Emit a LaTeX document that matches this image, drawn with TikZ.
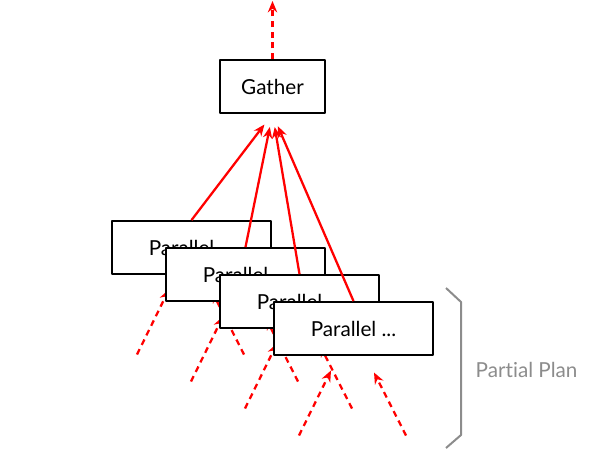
\documentclass[tikz,border=0pt]{standalone}
\usepackage{fontspec}
\setmainfont{Lato}[Ligatures=CommonOff]
\usetikzlibrary{arrows.meta}
\definecolor{plangray}{HTML}{8C8C8C}
\begin{document}
\begin{tikzpicture}[x=0.75pt, y=-0.75pt, font=\fontsize{15.5}{18}\selectfont, line join=round, >={Stealth[length=8.5pt,width=7pt]},
	plan/.style={draw=black, fill=white, line width=1.6pt, inner sep=0pt, minimum width=119.5pt, minimum height=39.5pt},
	flow/.style={->, red, line width=1.7pt},
	feed/.style={->, red, line width=1.7pt, dash pattern=on 4.5pt off 3.5pt}]
					\useasboundingbox (0,0) rectangle (606,463);
					%%%%%%%%%%%%%%%%%%%%%%%%%%%%%%%%%
					\node[plan, minimum width=79pt] (G) at (272.5,86.5) {Gather};
					\coordinate (out) at (272.5,1);
					\draw[feed] (G.north) -- (out);
					%%%%%%%%%%%%%%%%%%%%%%%%%%%%%%%%%
					\foreach \i in {1,...,4}{
						\node[plan] (P\i) at (137.5+54*\i,220.5+27*\i) {Parallel ...};
						\coordinate (La\i) at ([shift={(-54.5,107)}]P\i.center);
						\coordinate (Lb\i) at ([shift={(-22.5,42)}]P\i.center);
						\coordinate (Ra\i) at ([shift={(52.5,107)}]P\i.center);
						\coordinate (Rb\i) at ([shift={(20.5,44)}]P\i.center);
						\draw[feed] (La\i) -- (Lb\i);
						\draw[feed] (Ra\i) -- (Rb\i);
					}
					%%%%%%%%%%%%%%%%%%%%%%%%%%%%%%%%%
					\foreach \i in {1,...,4}
						\draw[flow, shorten >=10pt] (P\i.north) -- (G.south);
					%%%%%%%%%%%%%%%%%%%%%%%%%%%%%%%%%
					\draw[plangray, line width=1.5pt] (446,288) -- (461,302) -- (461,435) -- (446,448);
					\node[plangray, anchor=west] (part) at (471,370) {Partial Plan};
					%%%%%%%%%%%%%%%%%%%%%%%%%%%%%%%%%
\end{tikzpicture}
\end{document}
